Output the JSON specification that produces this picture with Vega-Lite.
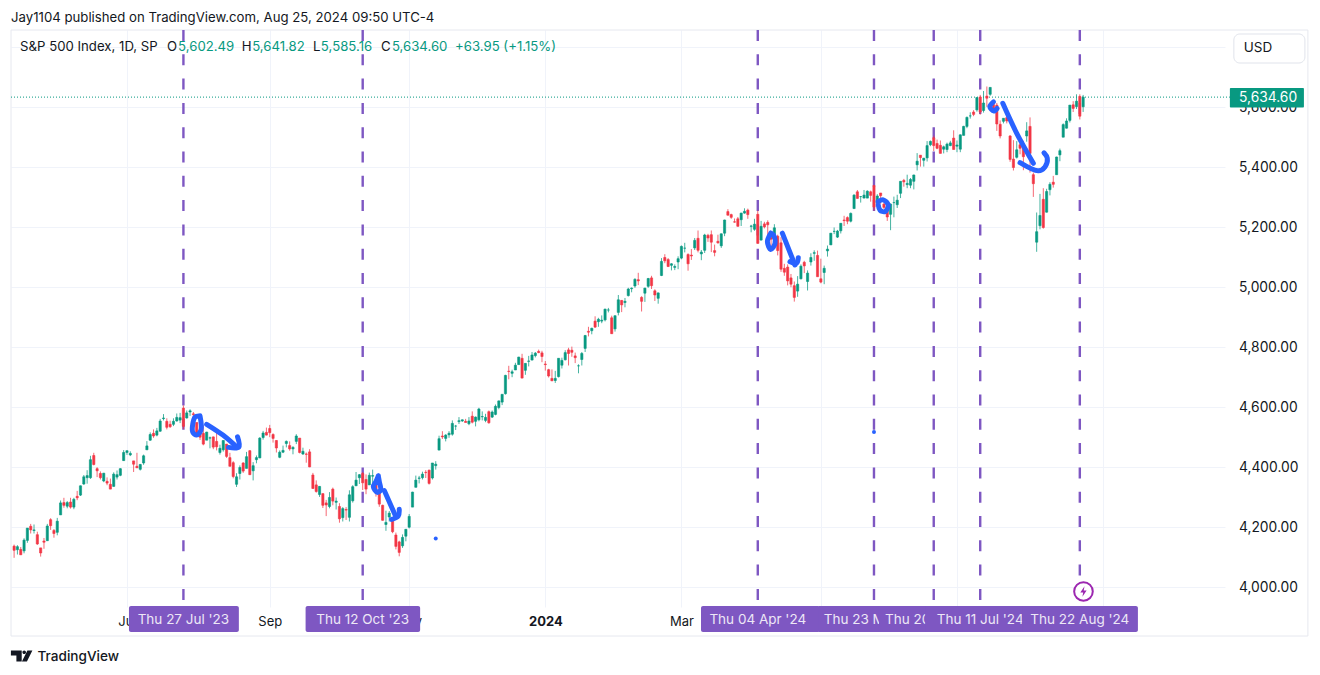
{"$schema":"https://vega.github.io/schema/vega-lite/v6.json","width":1214,"height":577,"autosize":{"type":"none"},"padding":{"left":11,"top":30,"right":95,"bottom":68},"background":"#ffffff","config":{"font":"Inter","view":{"stroke":null}},
"datasets":{
"candles":[
{"i":0,"o":4138,"h":4143,"l":4099,"c":4124},{"i":1,"o":4126,"h":4141,"l":4110,"c":4136},{"i":2,"o":4127,"h":4135,"l":4109,"c":4109},{"i":3,"o":4122,"h":4164,"l":4114,"c":4158},{"i":4,"o":4157,"h":4198,"l":4149,"c":4198},{"i":5,"o":4204,"h":4212,"l":4180,"c":4192},{"i":6,"o":4190,"h":4210,"l":4180,"c":4192},{"i":7,"o":4176,"h":4186,"l":4142,"c":4145},{"i":8,"o":4132,"h":4132,"l":4103,"c":4115},{"i":9,"o":4155,"h":4165,"l":4129,"c":4151},{"i":10,"o":4156,"h":4212,"l":4155,"c":4205},{"i":11,"o":4226,"h":4231,"l":4192,"c":4206},{"i":12,"o":4190,"h":4195,"l":4166,"c":4180},{"i":13,"o":4184,"h":4232,"l":4174,"c":4221},{"i":14,"o":4242,"h":4290,"l":4242,"c":4282},{"i":15,"o":4283,"h":4299,"l":4266,"c":4274},{"i":16,"o":4271,"h":4288,"l":4264,"c":4283},{"i":17,"o":4285,"h":4299,"l":4263,"c":4268},{"i":18,"o":4268,"h":4299,"l":4261,"c":4294},{"i":19,"o":4304,"h":4322,"l":4291,"c":4299},{"i":20,"o":4308,"h":4340,"l":4305,"c":4339},{"i":21,"o":4345,"h":4375,"l":4342,"c":4369},{"i":22,"o":4366,"h":4391,"l":4346,"c":4373},{"i":23,"o":4366,"h":4439,"l":4362,"c":4426},{"i":24,"o":4440,"h":4449,"l":4407,"c":4410},{"i":25,"o":4396,"h":4401,"l":4368,"c":4389},{"i":26,"o":4380,"h":4387,"l":4360,"c":4366},{"i":27,"o":4355,"h":4382,"l":4351,"c":4381},{"i":28,"o":4354,"h":4367,"l":4341,"c":4348},{"i":29,"o":4344,"h":4363,"l":4328,"c":4328},{"i":30,"o":4337,"h":4384,"l":4336,"c":4378},{"i":31,"o":4368,"h":4390,"l":4360,"c":4376},{"i":32,"o":4374,"h":4398,"l":4371,"c":4396},{"i":33,"o":4423,"h":4458,"l":4422,"c":4450},{"i":34,"o":4450,"h":4456,"l":4442,"c":4456},{"i":35,"o":4442,"h":4454,"l":4438,"c":4447},{"i":36,"o":4422,"h":4422,"l":4385,"c":4411},{"i":37,"o":4404,"h":4449,"l":4399,"c":4399},{"i":38,"o":4394,"h":4412,"l":4390,"c":4410},{"i":39,"o":4415,"h":4443,"l":4409,"c":4439},{"i":40,"o":4459,"h":4488,"l":4459,"c":4472},{"i":41,"o":4491,"h":4517,"l":4489,"c":4510},{"i":42,"o":4514,"h":4527,"l":4499,"c":4505},{"i":43,"o":4508,"h":4532,"l":4504,"c":4522},{"i":44,"o":4521,"h":4562,"l":4519,"c":4555},{"i":45,"o":4563,"h":4578,"l":4557,"c":4565},{"i":46,"o":4554,"h":4564,"l":4527,"c":4534},{"i":47,"o":4544,"h":4556,"l":4532,"c":4536},{"i":48,"o":4544,"h":4564,"l":4538,"c":4554},{"i":49,"o":4555,"h":4580,"l":4553,"c":4567},{"i":50,"o":4558,"h":4582,"l":4548,"c":4566},{"i":51,"o":4598,"h":4607,"l":4528,"c":4537},{"i":52,"o":4565,"h":4590,"l":4563,"c":4582},{"i":53,"o":4585,"h":4594,"l":4572,"c":4589},{"i":54,"o":4579,"h":4585,"l":4567,"c":4576},{"i":55,"o":4550,"h":4550,"l":4505,"c":4513},{"i":56,"o":4514,"h":4528,"l":4492,"c":4501},{"i":57,"o":4514,"h":4540,"l":4474,"c":4478},{"i":58,"o":4491,"h":4519,"l":4491,"c":4518},{"i":59,"o":4498,"h":4503,"l":4464,"c":4499},{"i":60,"o":4502,"h":4503,"l":4461,"c":4468},{"i":61,"o":4487,"h":4527,"l":4457,"c":4469},{"i":62,"o":4450,"h":4476,"l":4443,"c":4464},{"i":63,"o":4459,"h":4490,"l":4453,"c":4490},{"i":64,"o":4478,"h":4478,"l":4432,"c":4437},{"i":65,"o":4433,"h":4449,"l":4404,"c":4404},{"i":66,"o":4416,"h":4421,"l":4364,"c":4370},{"i":67,"o":4344,"h":4381,"l":4335,"c":4369},{"i":68,"o":4380,"h":4407,"l":4360,"c":4400},{"i":69,"o":4415,"h":4418,"l":4382,"c":4388},{"i":70,"o":4397,"h":4452,"l":4397,"c":4436},{"i":71,"o":4456,"h":4458,"l":4375,"c":4376},{"i":72,"o":4389,"h":4418,"l":4357,"c":4406},{"i":73,"o":4426,"h":4440,"l":4414,"c":4433},{"i":74,"o":4432,"h":4501,"l":4431,"c":4498},{"i":75,"o":4500,"h":4522,"l":4493,"c":4515},{"i":76,"o":4517,"h":4533,"l":4507,"c":4508},{"i":77,"o":4530,"h":4542,"l":4501,"c":4516},{"i":78,"o":4510,"h":4514,"l":4483,"c":4497},{"i":79,"o":4490,"h":4491,"l":4450,"c":4465},{"i":80,"o":4434,"h":4457,"l":4431,"c":4451},{"i":81,"o":4451,"h":4473,"l":4448,"c":4457},{"i":82,"o":4480,"h":4490,"l":4467,"c":4487},{"i":83,"o":4473,"h":4487,"l":4456,"c":4462},{"i":84,"o":4462,"h":4471,"l":4444,"c":4467},{"i":85,"o":4487,"h":4511,"l":4478,"c":4505},{"i":86,"o":4498,"h":4498,"l":4447,"c":4450},{"i":87,"o":4445,"h":4466,"l":4442,"c":4454},{"i":88,"o":4445,"h":4450,"l":4416,"c":4444},{"i":89,"o":4452,"h":4461,"l":4401,"c":4402},{"i":90,"o":4375,"h":4382,"l":4329,"c":4330},{"i":91,"o":4342,"h":4357,"l":4316,"c":4320},{"i":92,"o":4310,"h":4338,"l":4302,"c":4337},{"i":93,"o":4313,"h":4313,"l":4265,"c":4274},{"i":94,"o":4282,"h":4292,"l":4238,"c":4275},{"i":95,"o":4270,"h":4318,"l":4264,"c":4300},{"i":96,"o":4328,"h":4333,"l":4274,"c":4288},{"i":97,"o":4284,"h":4300,"l":4260,"c":4288},{"i":98,"o":4270,"h":4281,"l":4216,"c":4229},{"i":99,"o":4233,"h":4268,"l":4220,"c":4263},{"i":100,"o":4260,"h":4268,"l":4225,"c":4258},{"i":101,"o":4234,"h":4324,"l":4220,"c":4309},{"i":102,"o":4289,"h":4341,"l":4283,"c":4336},{"i":103,"o":4339,"h":4385,"l":4339,"c":4358},{"i":104,"o":4366,"h":4378,"l":4345,"c":4376},{"i":105,"o":4380,"h":4385,"l":4325,"c":4349},{"i":106,"o":4360,"h":4377,"l":4311,"c":4328},{"i":107,"o":4342,"h":4383,"l":4342,"c":4374},{"i":108,"o":4371,"h":4393,"l":4337,"c":4373},{"i":109,"o":4358,"h":4364,"l":4303,"c":4315},{"i":110,"o":4322,"h":4339,"l":4269,"c":4278},{"i":111,"o":4274,"h":4276,"l":4223,"c":4224},{"i":112,"o":4210,"h":4256,"l":4189,"c":4217},{"i":113,"o":4235,"h":4255,"l":4220,"c":4248},{"i":114,"o":4232,"h":4232,"l":4181,"c":4186},{"i":115,"o":4175,"h":4183,"l":4127,"c":4137},{"i":116,"o":4152,"h":4156,"l":4104,"c":4117},{"i":117,"o":4139,"h":4177,"l":4132,"c":4167},{"i":118,"o":4171,"h":4195,"l":4154,"c":4194},{"i":119,"o":4201,"h":4245,"l":4197,"c":4237},{"i":120,"o":4268,"h":4319,"l":4268,"c":4318},{"i":121,"o":4334,"h":4373,"l":4334,"c":4358},{"i":122,"o":4364,"h":4372,"l":4347,"c":4365},{"i":123,"o":4366,"h":4386,"l":4360,"c":4378},{"i":124,"o":4384,"h":4391,"l":4365,"c":4383},{"i":125,"o":4391,"h":4393,"l":4343,"c":4347},{"i":126,"o":4365,"h":4415,"l":4360,"c":4415},{"i":127,"o":4406,"h":4421,"l":4393,"c":4411},{"i":128,"o":4458,"h":4506,"l":4458,"c":4496},{"i":129,"o":4505,"h":4521,"l":4495,"c":4502},{"i":130,"o":4497,"h":4511,"l":4487,"c":4508},{"i":131,"o":4509,"h":4521,"l":4499,"c":4514},{"i":132,"o":4511,"h":4557,"l":4506,"c":4547},{"i":133,"o":4538,"h":4542,"l":4525,"c":4538},{"i":134,"o":4553,"h":4568,"l":4545,"c":4556},{"i":135,"o":4555,"h":4560,"l":4552,"c":4559},{"i":136,"o":4554,"h":4562,"l":4551,"c":4550},{"i":137,"o":4546,"h":4568,"l":4541,"c":4555},{"i":138,"o":4571,"h":4587,"l":4547,"c":4551},{"i":139,"o":4554,"h":4570,"l":4537,"c":4568},{"i":140,"o":4559,"h":4599,"l":4554,"c":4595},{"i":141,"o":4569,"h":4587,"l":4557,"c":4570},{"i":142,"o":4557,"h":4579,"l":4551,"c":4567},{"i":143,"o":4586,"h":4590,"l":4546,"c":4549},{"i":144,"o":4568,"h":4590,"l":4565,"c":4585},{"i":145,"o":4577,"h":4610,"l":4574,"c":4604},{"i":146,"o":4600,"h":4623,"l":4594,"c":4622},{"i":147,"o":4618,"h":4643,"l":4608,"c":4644},{"i":148,"o":4646,"h":4709,"l":4643,"c":4707},{"i":149,"o":4721,"h":4739,"l":4694,"c":4720},{"i":150,"o":4714,"h":4726,"l":4701,"c":4719},{"i":151,"o":4725,"h":4749,"l":4725,"c":4741},{"i":152,"o":4743,"h":4769,"l":4743,"c":4768},{"i":153,"o":4764,"h":4779,"l":4698,"c":4698},{"i":154,"o":4724,"h":4748,"l":4709,"c":4747},{"i":155,"o":4754,"h":4772,"l":4737,"c":4755},{"i":156,"o":4758,"h":4785,"l":4758,"c":4775},{"i":157,"o":4773,"h":4785,"l":4767,"c":4781},{"i":158,"o":4787,"h":4793,"l":4781,"c":4783},{"i":159,"o":4782,"h":4789,"l":4751,"c":4770},{"i":160,"o":4745,"h":4755,"l":4723,"c":4743},{"i":161,"o":4726,"h":4729,"l":4700,"c":4705},{"i":162,"o":4697,"h":4727,"l":4688,"c":4689},{"i":163,"o":4690,"h":4722,"l":4682,"c":4697},{"i":164,"o":4703,"h":4764,"l":4700,"c":4764},{"i":165,"o":4741,"h":4766,"l":4730,"c":4757},{"i":166,"o":4759,"h":4791,"l":4757,"c":4783},{"i":167,"o":4792,"h":4799,"l":4740,"c":4780},{"i":168,"o":4791,"h":4803,"l":4769,"c":4784},{"i":169,"o":4772,"h":4783,"l":4748,"c":4766},{"i":170,"o":4739,"h":4744,"l":4714,"c":4739},{"i":171,"o":4760,"h":4785,"l":4740,"c":4780},{"i":172,"o":4797,"h":4842,"l":4785,"c":4840},{"i":173,"o":4854,"h":4869,"l":4837,"c":4851},{"i":174,"o":4856,"h":4866,"l":4844,"c":4864},{"i":175,"o":4888,"h":4904,"l":4865,"c":4868},{"i":176,"o":4886,"h":4899,"l":4869,"c":4894},{"i":177,"o":4888,"h":4907,"l":4881,"c":4891},{"i":178,"o":4892,"h":4929,"l":4887,"c":4928},{"i":179,"o":4925,"h":4932,"l":4917,"c":4925},{"i":180,"o":4899,"h":4906,"l":4845,"c":4846},{"i":181,"o":4862,"h":4906,"l":4853,"c":4906},{"i":182,"o":4917,"h":4975,"l":4907,"c":4959},{"i":183,"o":4957,"h":4958,"l":4918,"c":4942},{"i":184,"o":4950,"h":4965,"l":4934,"c":4954},{"i":185,"o":4973,"h":4999,"l":4970,"c":4995},{"i":186,"o":4996,"h":5000,"l":4984,"c":4998},{"i":187,"o":5005,"h":5031,"l":4999,"c":5027},{"i":188,"o":5026,"h":5049,"l":5008,"c":5022},{"i":189,"o":4967,"h":4971,"l":4920,"c":4954},{"i":190,"o":4981,"h":4999,"l":4952,"c":4998},{"i":191,"o":5004,"h":5032,"l":4999,"c":5030},{"i":192,"o":5032,"h":5039,"l":4995,"c":5006},{"i":193,"o":4989,"h":4994,"l":4955,"c":4975},{"i":194,"o":4964,"h":4983,"l":4946,"c":4982},{"i":195,"o":5040,"h":5098,"l":5038,"c":5087},{"i":196,"o":5100,"h":5111,"l":5081,"c":5089},{"i":197,"o":5093,"h":5098,"l":5068,"c":5070},{"i":198,"o":5074,"h":5081,"l":5057,"c":5079},{"i":199,"o":5067,"h":5077,"l":5058,"c":5070},{"i":200,"o":5085,"h":5104,"l":5061,"c":5096},{"i":201,"o":5098,"h":5140,"l":5094,"c":5137},{"i":202,"o":5131,"h":5149,"l":5117,"c":5131},{"i":203,"o":5110,"h":5114,"l":5056,"c":5079},{"i":204,"o":5108,"h":5128,"l":5092,"c":5105},{"i":205,"o":5132,"h":5165,"l":5125,"c":5157},{"i":206,"o":5164,"h":5190,"l":5117,"c":5124},{"i":207,"o":5112,"h":5125,"l":5091,"c":5118},{"i":208,"o":5124,"h":5179,"l":5115,"c":5175},{"i":209,"o":5174,"h":5179,"l":5152,"c":5165},{"i":210,"o":5176,"h":5190,"l":5118,"c":5151},{"i":211,"o":5123,"h":5143,"l":5104,"c":5117},{"i":212,"o":5154,"h":5176,"l":5146,"c":5149},{"i":213,"o":5139,"h":5180,"l":5132,"c":5179},{"i":214,"o":5181,"h":5226,"l":5171,"c":5225},{"i":215,"o":5253,"h":5261,"l":5240,"c":5241},{"i":216,"o":5243,"h":5246,"l":5229,"c":5234},{"i":217,"o":5219,"h":5230,"l":5216,"c":5218},{"i":218,"o":5229,"h":5235,"l":5203,"c":5204},{"i":219,"o":5226,"h":5249,"l":5205,"c":5248},{"i":220,"o":5248,"h":5264,"l":5246,"c":5254},{"i":221,"o":5258,"h":5263,"l":5229,"c":5243},{"i":222,"o":5204,"h":5209,"l":5184,"c":5205},{"i":223,"o":5194,"h":5229,"l":5189,"c":5211},{"i":224,"o":5244,"h":5256,"l":5146,"c":5147},{"i":225,"o":5158,"h":5222,"l":5157,"c":5204},{"i":226,"o":5212,"h":5219,"l":5197,"c":5202},{"i":227,"o":5217,"h":5224,"l":5160,"c":5209},{"i":228,"o":5167,"h":5178,"l":5138,"c":5161},{"i":229,"o":5172,"h":5211,"l":5138,"c":5199},{"i":230,"o":5171,"h":5176,"l":5107,"c":5123},{"i":231,"o":5149,"h":5168,"l":5052,"c":5061},{"i":232,"o":5064,"h":5079,"l":5039,"c":5051},{"i":233,"o":5068,"h":5077,"l":5007,"c":5022},{"i":234,"o":5032,"h":5045,"l":5001,"c":5011},{"i":235,"o":5006,"h":5020,"l":4953,"c":4967},{"i":236,"o":4988,"h":5038,"l":4969,"c":5011},{"i":237,"o":5029,"h":5077,"l":5027,"c":5071},{"i":238,"o":5084,"h":5089,"l":5048,"c":5072},{"i":239,"o":5020,"h":5057,"l":4990,"c":5048},{"i":240,"o":5085,"h":5114,"l":5073,"c":5100},{"i":241,"o":5114,"h":5124,"l":5089,"c":5116},{"i":242,"o":5107,"h":5123,"l":5036,"c":5036},{"i":243,"o":5029,"h":5096,"l":5014,"c":5018},{"i":244,"o":5050,"h":5073,"l":5011,"c":5064},{"i":245,"o":5122,"h":5140,"l":5103,"c":5128},{"i":246,"o":5142,"h":5181,"l":5142,"c":5181},{"i":247,"o":5187,"h":5200,"l":5178,"c":5187},{"i":248,"o":5168,"h":5192,"l":5165,"c":5188},{"i":249,"o":5189,"h":5215,"l":5180,"c":5214},{"i":250,"o":5225,"h":5239,"l":5205,"c":5223},{"i":251,"o":5233,"h":5237,"l":5211,"c":5221},{"i":252,"o":5221,"h":5250,"l":5217,"c":5247},{"i":253,"o":5263,"h":5311,"l":5263,"c":5308},{"i":254,"o":5319,"h":5325,"l":5296,"c":5297},{"i":255,"o":5303,"h":5305,"l":5283,"c":5303},{"i":256,"o":5298,"h":5325,"l":5298,"c":5308},{"i":257,"o":5298,"h":5324,"l":5298,"c":5321},{"i":258,"o":5319,"h":5323,"l":5286,"c":5307},{"i":259,"o":5340,"h":5342,"l":5256,"c":5268},{"i":260,"o":5281,"h":5311,"l":5278,"c":5305},{"i":261,"o":5315,"h":5315,"l":5279,"c":5306},{"i":262,"o":5278,"h":5282,"l":5262,"c":5267},{"i":263,"o":5259,"h":5282,"l":5222,"c":5235},{"i":264,"o":5244,"h":5280,"l":5191,"c":5278},{"i":265,"o":5283,"h":5303,"l":5234,"c":5283},{"i":266,"o":5276,"h":5309,"l":5265,"c":5291},{"i":267,"o":5314,"h":5354,"l":5298,"c":5354},{"i":268,"o":5357,"h":5362,"l":5336,"c":5352},{"i":269,"o":5343,"h":5376,"l":5331,"c":5347},{"i":270,"o":5341,"h":5365,"l":5331,"c":5360},{"i":271,"o":5354,"h":5376,"l":5327,"c":5375},{"i":272,"o":5409,"h":5448,"l":5390,"c":5421},{"i":273,"o":5441,"h":5441,"l":5403,"c":5433},{"i":274,"o":5424,"h":5432,"l":5403,"c":5431},{"i":275,"o":5432,"h":5488,"l":5420,"c":5473},{"i":276,"o":5476,"h":5490,"l":5471,"c":5487},{"i":277,"o":5499,"h":5506,"l":5455,"c":5473},{"i":278,"o":5480,"h":5493,"l":5461,"c":5464},{"i":279,"o":5474,"h":5490,"l":5447,"c":5447},{"i":280,"o":5461,"h":5473,"l":5447,"c":5469},{"i":281,"o":5460,"h":5483,"l":5451,"c":5478},{"i":282,"o":5473,"h":5489,"l":5471,"c":5482},{"i":283,"o":5498,"h":5524,"l":5460,"c":5460},{"i":284,"o":5471,"h":5490,"l":5451,"c":5475},{"i":285,"o":5461,"h":5510,"l":5451,"c":5509},{"i":286,"o":5507,"h":5539,"l":5507,"c":5537},{"i":287,"o":5537,"h":5570,"l":5531,"c":5567},{"i":288,"o":5572,"h":5584,"l":5563,"c":5572},{"i":289,"o":5585,"h":5591,"l":5571,"c":5577},{"i":290,"o":5592,"h":5635,"l":5586,"c":5633},{"i":291,"o":5635,"h":5642,"l":5576,"c":5585},{"i":292,"o":5590,"h":5655,"l":5583,"c":5615},{"i":293,"o":5638,"h":5670,"l":5602,"c":5631},{"i":294,"o":5644,"h":5667,"l":5639,"c":5667},{"i":295,"o":5610,"h":5622,"l":5584,"c":5588},{"i":296,"o":5608,"h":5615,"l":5522,"c":5545},{"i":297,"o":5544,"h":5557,"l":5497,"c":5505},{"i":298,"o":5554,"h":5564,"l":5547,"c":5564},{"i":299,"o":5566,"h":5586,"l":5547,"c":5555},{"i":300,"o":5505,"h":5508,"l":5419,"c":5427},{"i":301,"o":5428,"h":5491,"l":5390,"c":5400},{"i":302,"o":5434,"h":5488,"l":5430,"c":5459},{"i":303,"o":5476,"h":5487,"l":5444,"c":5464},{"i":304,"o":5478,"h":5489,"l":5391,"c":5436},{"i":305,"o":5505,"h":5551,"l":5486,"c":5522},{"i":306,"o":5537,"h":5567,"l":5383,"c":5447},{"i":307,"o":5376,"h":5383,"l":5302,"c":5346},{"i":308,"o":5151,"h":5250,"l":5119,"c":5186},{"i":309,"o":5206,"h":5312,"l":5194,"c":5240},{"i":310,"o":5294,"h":5331,"l":5196,"c":5200},{"i":311,"o":5251,"h":5329,"l":5250,"c":5320},{"i":312,"o":5326,"h":5351,"l":5307,"c":5344},{"i":313,"o":5351,"h":5372,"l":5333,"c":5344},{"i":314,"o":5376,"h":5436,"l":5376,"c":5435},{"i":315,"o":5442,"h":5463,"l":5421,"c":5456},{"i":316,"o":5501,"h":5547,"l":5501,"c":5543},{"i":317,"o":5531,"h":5564,"l":5530,"c":5555},{"i":318,"o":5557,"h":5608,"l":5550,"c":5608},{"i":319,"o":5609,"h":5621,"l":5585,"c":5597},{"i":320,"o":5603,"h":5644,"l":5595,"c":5621},{"i":321,"o":5637,"h":5644,"l":5560,"c":5571},{"i":322,"o":5602.49,"h":5641.82,"l":5585.16,"c":5634.6}
],
"tags":[
{"n":1,"label":"Thu 27 Jul '23","i":51,"from":34.6,"to":67.7,"top":5858.33,"end":3938,"tagTop":3938.3,"tagBase":3851.7,"mid":3891.7},{"n":2,"label":"Thu 12 Oct '23","i":105,"from":87.8,"to":122.3,"top":5858.33,"end":3938,"tagTop":3938.3,"tagBase":3851.7,"mid":3891.7},{"n":3,"label":"Thu 04 Apr '24","i":224,"from":206.9,"to":242.8,"top":5858.33,"end":3938,"tagTop":3938.3,"tagBase":3851.7,"mid":3891.7},{"n":4,"label":"Thu 23 May '24","i":259,"from":242.4,"to":275.6,"top":5858.33,"end":3938,"tagTop":3938.3,"tagBase":3851.7,"mid":3891.7},{"n":5,"label":"Thu 20 Jun '24","i":277,"from":260.5,"to":293.7,"top":5858.33,"end":3938,"tagTop":3938.3,"tagBase":3851.7,"mid":3891.7},{"n":6,"label":"Thu 11 Jul '24","i":291,"from":274.4,"to":307.5,"top":5858.33,"end":3938,"tagTop":3938.3,"tagBase":3851.7,"mid":3891.7},{"n":7,"label":"Thu 22 Aug '24","i":321,"from":303.6,"to":338.5,"top":5858.33,"end":3938,"tagTop":3938.3,"tagBase":3851.7,"mid":3891.7}
],
"strokes":[
{"s":1,"n":0,"i":55.7,"p":4572},{"s":1,"n":1,"i":54.5,"p":4568},{"s":1,"n":2,"i":53.8,"p":4518},{"s":1,"n":3,"i":55,"p":4508},{"s":1,"n":4,"i":56.3,"p":4525},{"s":1,"n":5,"i":56,"p":4572},
{"s":2,"n":0,"i":58,"p":4544},{"s":2,"n":1,"i":62.9,"p":4508},{"s":2,"n":2,"i":67.1,"p":4468},
{"s":3,"n":0,"i":67.3,"p":4502},{"s":3,"n":1,"i":67.7,"p":4468},{"s":3,"n":2,"i":64.6,"p":4467},
{"s":4,"n":0,"i":109.7,"p":4372},{"s":4,"n":1,"i":109,"p":4353},{"s":4,"n":2,"i":108.2,"p":4336},{"s":4,"n":3,"i":109.4,"p":4317},{"s":4,"n":4,"i":110.4,"p":4325},{"s":4,"n":5,"i":110,"p":4353},{"s":4,"n":6,"i":109.7,"p":4372},
{"s":5,"n":0,"i":111.5,"p":4323},{"s":5,"n":1,"i":115,"p":4236},
{"s":6,"n":0,"i":116,"p":4261},{"s":6,"n":1,"i":115.7,"p":4238},{"s":6,"n":2,"i":113.7,"p":4227},
{"s":7,"n":0,"i":227.9,"p":5181},{"s":7,"n":1,"i":226.9,"p":5153},{"s":7,"n":2,"i":227.9,"p":5127},{"s":7,"n":3,"i":229.2,"p":5147},{"s":7,"n":4,"i":228.7,"p":5175},{"s":7,"n":5,"i":227.9,"p":5181},
{"s":8,"n":0,"i":231.4,"p":5181},{"s":8,"n":1,"i":235.2,"p":5075},
{"s":9,"n":0,"i":236.2,"p":5099},{"s":9,"n":1,"i":235.7,"p":5081},{"s":9,"n":2,"i":233.7,"p":5086},
{"s":10,"n":0,"i":260.3,"p":5286},{"s":10,"n":1,"i":261.8,"p":5292},{"s":10,"n":2,"i":263.3,"p":5275},{"s":10,"n":3,"i":262.3,"p":5253},{"s":10,"n":4,"i":260.8,"p":5258},{"s":10,"n":5,"i":260.3,"p":5275},
{"s":11,"n":0,"i":295,"p":5619},{"s":11,"n":1,"i":293.9,"p":5603},{"s":11,"n":2,"i":295.1,"p":5588},{"s":11,"n":3,"i":296.1,"p":5597},
{"s":12,"n":0,"i":297.8,"p":5614},{"s":12,"n":1,"i":302,"p":5514},{"s":12,"n":2,"i":307,"p":5414},
{"s":13,"n":0,"i":303,"p":5416},{"s":13,"n":1,"i":308.5,"p":5389},{"s":13,"n":2,"i":310.5,"p":5402},{"s":13,"n":3,"i":311.2,"p":5431},{"s":13,"n":4,"i":310.2,"p":5449}
],
"legend":[
{"t":"S&P 500 Index, 1D, SP","i":1.8,"p":5800,"tone":"ink"},{"t":"O","i":46.05,"p":5800,"tone":"ink"},{"t":"5,602.49","i":49.4,"p":5800,"tone":"up"},{"t":"H","i":68.6,"p":5800,"tone":"ink"},{"t":"5,641.82","i":71.7,"p":5800,"tone":"up"},{"t":"L","i":90,"p":5800,"tone":"ink"},{"t":"5,585.16","i":92.4,"p":5800,"tone":"up"},{"t":"C","i":110.5,"p":5800,"tone":"ink"},{"t":"5,634.60","i":113.8,"p":5800,"tone":"up"},{"t":"+63.95 (+1.15%)","i":132.8,"p":5800,"tone":"up"}
]
},
"encoding":{
"x":{"field":"i","type":"quantitative","scale":{"domain":[-0.934,364.73],"nice":false,"zero":false,"padding":0},"axis":{"values":[34,77,119,160,201,243,284,328],"labelExpr":"datum.value==34?'Jul':datum.value==77?'Sep':datum.value==119?'Nov':datum.value==160?'2024':datum.value==201?'Mar':''","grid":true,"gridColor":"#f0f3fa","ticks":false,"domain":false,"title":null,"labelFontSize":13,"labelColor":"#131722","labelPadding":8,"labelOverlap":false,"labelFlush":false,"labelFontWeight":{"condition":{"test":"datum.value==160","value":"bold"},"value":"normal"}}},
"y":{"field":"p","type":"quantitative","scale":{"domain":[3935,5858.33],"nice":false,"zero":false},"axis":{"orient":"right","values":[4000,4200,4400,4600,4800,5000,5200,5400,5600,5800],"labelExpr":"datum.value==5800?'':format(datum.value,',.2f')","grid":true,"gridColor":"#f0f3fa","ticks":false,"domain":false,"title":null,"labelFontSize":13.8,"labelColor":"#131722","labelPadding":13.5,"labelOverlap":false,"labelFlush":false}}
},
"layer":[
{"data":{"values":[{"i":-0.934,"i2":389.7,"p":3838.3,"p2":5858.33}]},"mark":{"type":"rect","fill":"#ffffff","fillOpacity":0,"stroke":"#e6e8ef","strokeWidth":1},"encoding":{"x2":{"field":"i2"},"y2":{"field":"p2"}}},
{"data":{"values":[{"i":-0.934,"i2":366.2,"p":5634.6}]},"mark":{"type":"rule","color":"#089981","strokeWidth":1,"strokeDash":[1,2]},"encoding":{"x2":{"field":"i2"}}},
{"data":{"name":"tags"},"mark":{"type":"rule","color":"#7e57c2","strokeWidth":2.4,"strokeDash":[11,13.3]},"encoding":{"y":{"field":"top","type":"quantitative","title":null},"y2":{"field":"end"}}},
{"data":{"name":"candles"},"mark":{"type":"rule","strokeWidth":1,"opacity":0.75},"encoding":{"y":{"field":"l","type":"quantitative","title":null},"y2":{"field":"h"},"color":{"condition":{"test":"datum.c>=datum.o","value":"#089981"},"value":"#f23645"}}},
{"data":{"name":"candles"},"mark":{"type":"bar","size":2.2,"strokeWidth":0.6},"encoding":{"y":{"field":"o","type":"quantitative","title":null},"y2":{"field":"c"},"color":{"condition":{"test":"datum.c>=datum.o","value":"#089981"},"value":"#f23645"},"stroke":{"condition":{"test":"datum.c>=datum.o","value":"#089981"},"value":"#f23645"}}},
{"data":{"name":"strokes"},"mark":{"type":"line","color":"#2962ff","strokeWidth":5,"strokeCap":"round","strokeJoin":"round","interpolate":"catmull-rom"},"encoding":{"detail":{"field":"s"},"order":{"field":"n"}}},
{"data":{"values":[{"i":127,"p":4163},{"i":259,"p":4518}]},"mark":{"type":"point","filled":true,"color":"#2962ff","size":16,"opacity":1}},
{"data":{"values":[{"i":322.1,"p":3986.7}]},"mark":{"type":"point","filled":true,"fill":"#ffffff","stroke":"#9c27b0","strokeWidth":2,"size":346,"opacity":1,"shape":"circle"}},
{"data":{"values":[{"i":322.1,"p":3986.7}]},"mark":{"type":"point","filled":true,"fill":"#9c27b0","strokeWidth":0,"size":110,"opacity":1,"shape":"M0.2,-1 L-0.6,0.2 L-0.05,0.2 L-0.2,1 L0.6,-0.2 L0.05,-0.2 Z"}},
{"data":{"name":"tags"},"transform":[{"filter":"datum.n<=3"}],"mark":{"type":"rect","fill":"#7e57c2","cornerRadius":2},"encoding":{"x":{"field":"from","type":"quantitative","title":null},"x2":{"field":"to"},"y":{"field":"tagTop","type":"quantitative","title":null},"y2":{"field":"tagBase"}}},
{"data":{"name":"tags"},"transform":[{"filter":"datum.n<=3"}],"mark":{"type":"text","color":"#ede7f6","fontSize":13.5,"align":"center","baseline":"middle"},"encoding":{"y":{"field":"mid","type":"quantitative","title":null},"text":{"field":"label"}}},
{"data":{"name":"tags"},"transform":[{"filter":"datum.n==4"}],"mark":{"type":"rect","fill":"#7e57c2"},"encoding":{"x":{"field":"from","type":"quantitative","title":null},"x2":{"field":"to"},"y":{"field":"tagTop","type":"quantitative","title":null},"y2":{"field":"tagBase"}}},
{"data":{"name":"tags"},"transform":[{"filter":"datum.n==4"}],"mark":{"type":"text","color":"#ede7f6","fontSize":13.5,"align":"center","baseline":"middle"},"encoding":{"y":{"field":"mid","type":"quantitative","title":null},"text":{"field":"label"}}},
{"data":{"name":"tags"},"transform":[{"filter":"datum.n==5"}],"mark":{"type":"rect","fill":"#7e57c2"},"encoding":{"x":{"field":"from","type":"quantitative","title":null},"x2":{"field":"to"},"y":{"field":"tagTop","type":"quantitative","title":null},"y2":{"field":"tagBase"}}},
{"data":{"name":"tags"},"transform":[{"filter":"datum.n==5"}],"mark":{"type":"text","color":"#ede7f6","fontSize":13.5,"align":"center","baseline":"middle"},"encoding":{"y":{"field":"mid","type":"quantitative","title":null},"text":{"field":"label"}}},
{"data":{"name":"tags"},"transform":[{"filter":"datum.n==6"}],"mark":{"type":"rect","fill":"#7e57c2"},"encoding":{"x":{"field":"from","type":"quantitative","title":null},"x2":{"field":"to"},"y":{"field":"tagTop","type":"quantitative","title":null},"y2":{"field":"tagBase"}}},
{"data":{"name":"tags"},"transform":[{"filter":"datum.n==6"}],"mark":{"type":"text","color":"#ede7f6","fontSize":13.5,"align":"center","baseline":"middle"},"encoding":{"y":{"field":"mid","type":"quantitative","title":null},"text":{"field":"label"}}},
{"data":{"name":"tags"},"transform":[{"filter":"datum.n==7"}],"mark":{"type":"rect","fill":"#7e57c2","cornerRadius":2},"encoding":{"x":{"field":"from","type":"quantitative","title":null},"x2":{"field":"to"},"y":{"field":"tagTop","type":"quantitative","title":null},"y2":{"field":"tagBase"}}},
{"data":{"name":"tags"},"transform":[{"filter":"datum.n==7"}],"mark":{"type":"text","color":"#ede7f6","fontSize":13.5,"align":"center","baseline":"middle"},"encoding":{"y":{"field":"mid","type":"quantitative","title":null},"text":{"field":"label"}}},
{"data":{"values":[{"i":367.4,"i2":388.8,"p":5748.3,"p2":5845}]},"mark":{"type":"rect","fill":"#ffffff","stroke":"#e0e3eb","strokeWidth":1,"cornerRadius":6},"encoding":{"x2":{"field":"i2"},"y2":{"field":"p2"}}},
{"data":{"values":[{"i":370.4,"p":5798,"t":"USD"}]},"mark":{"type":"text","color":"#131722","fontSize":13.5,"align":"left","baseline":"middle"},"encoding":{"text":{"field":"t"}}},
{"data":{"values":[{"i":366.2,"i2":388.5,"p":5600,"p2":5665}]},"mark":{"type":"rect","fill":"#089981","cornerRadius":1},"encoding":{"x2":{"field":"i2"},"y2":{"field":"p2"}}},
{"data":{"values":[{"i":377.7,"p":5633,"t":"5,634.60"}]},"mark":{"type":"text","color":"#ffffff","fontSize":13.8,"align":"center","baseline":"middle"},"encoding":{"text":{"field":"t"}}},
{"data":{"values":[{"i":-0.93,"p":5898,"t":"Jay1104 published on TradingView.com, Aug 25, 2024 09:50 UTC-4"}]},"mark":{"type":"text","color":"#131722","fontSize":13.2,"align":"left","baseline":"middle"},"encoding":{"text":{"field":"t"}}},
{"data":{"name":"legend"},"mark":{"type":"text","fontSize":13.2,"align":"left","baseline":"middle"},"encoding":{"text":{"field":"t"},"color":{"field":"tone","type":"nominal","legend":null,"scale":{"domain":["ink","up"],"range":["#131722","#089981"]}}}},
{"data":{"values":[{"i":2.2,"p":3771.7}]},"mark":{"type":"point","filled":true,"fill":"#131722","strokeWidth":0,"size":400,"opacity":1,"shape":"M-1.05,-0.55 H0.03 V0.55 H-0.5 V-0.05 H-1.05 Z M0.1,-0.37 a0.18,0.18 0 1,0 0.36,0 a0.18,0.18 0 1,0 -0.36,0 Z M0.6,-0.55 H1.1 L0.55,0.55 H0.05 Z"}},
{"data":{"values":[{"i":7.05,"p":3768,"t":"TradingView"}]},"mark":{"type":"text","color":"#131722","fontSize":13.6,"fontWeight":500,"align":"left","baseline":"middle"},"encoding":{"text":{"field":"t"}}}
]}
